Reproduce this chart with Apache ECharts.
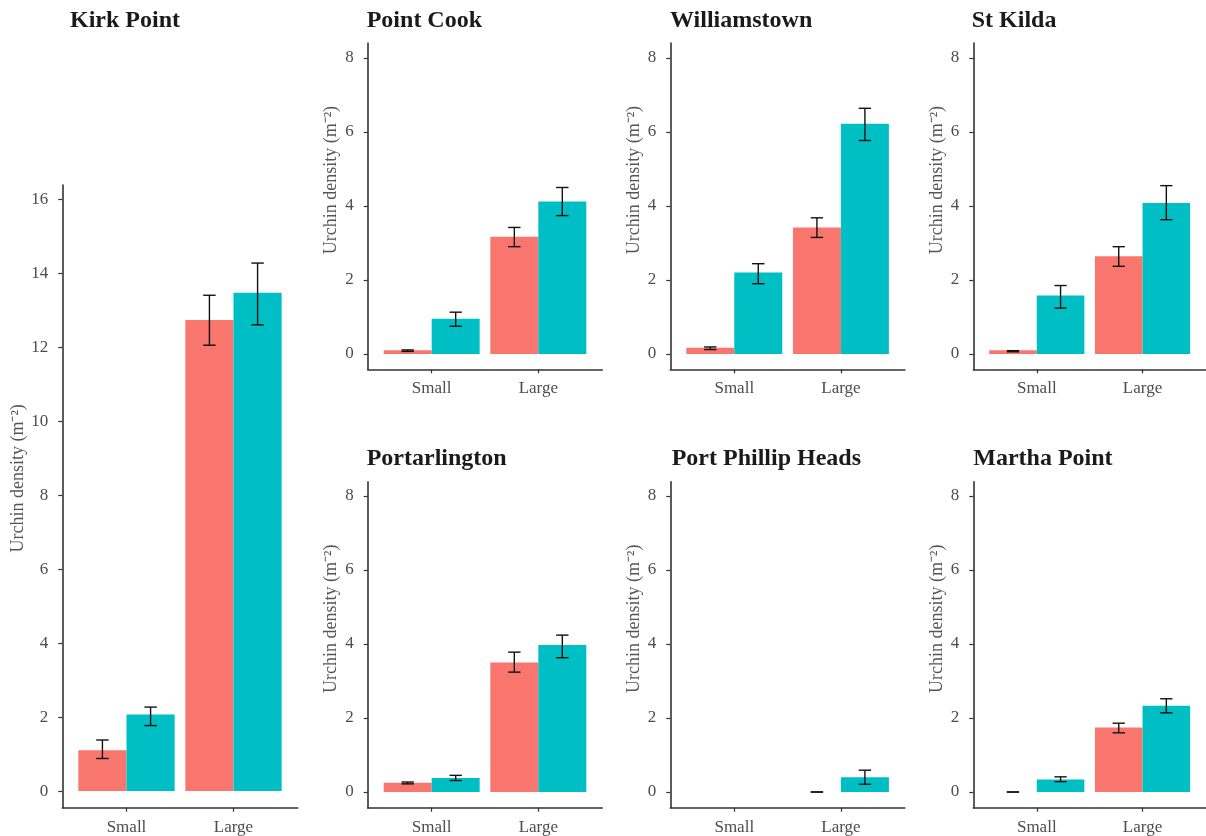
<!DOCTYPE html>
<html>
<head>
<meta charset="utf-8">
<script src="https://cdn.jsdelivr.net/npm/echarts@6/dist/echarts.min.js"></script>
<style>
  html, body { margin: 0; padding: 0; background: #fff; }
  #chart { width: 1206px; height: 836px; }
</style>
</head>
<body>
<div id="chart"></div>
<script>
// ---------------- data ----------------
const sites = ['Kirk Point', 'Point Cook', 'Williamstown', 'St Kilda', 'Portarlington', 'Port Phillip Heads', 'Martha Point'];
const sizeClasses = ['Small', 'Large'];
// values per site: [Small, Large]; null = no data
const redMean  = [[1.10, 12.73], [0.10, 3.17], [0.17, 3.42], [0.10, 2.64], [0.25, 3.50], [null, 0], [0, 1.74]];
const redLow   = [[0.88, 12.05], [0.07, 2.90], [0.12, 3.15], [0.06, 2.37], [0.22, 3.24], [null, 0], [0, 1.60]];
const redHigh  = [[1.38, 13.40], [0.11, 3.42], [0.19, 3.68], [0.09, 2.90], [0.27, 3.78], [null, 0], [0, 1.86]];
const tealMean = [[2.07, 13.47], [0.95, 4.12], [2.20, 6.22], [1.58, 4.08], [0.38, 3.97], [null, 0.40], [0.34, 2.33]];
const tealLow  = [[1.77, 12.60], [0.75, 3.74], [1.90, 5.77], [1.24, 3.63], [0.31, 3.63], [null, 0.21], [0.28, 2.14]];
const tealHigh = [[2.27, 14.27], [1.13, 4.50], [2.44, 6.64], [1.85, 4.55], [0.45, 4.24], [null, 0.59], [0.41, 2.52]];
const yTicksKirk = [0, 2, 4, 6, 8, 10, 12, 14, 16];
const yTicksOther = [0, 2, 4, 6, 8];
const yAxisTitle = 'Urchin density (m⁻²)';

// ---------------- layout ----------------
const RED = '#F8766D', TEAL = '#00BFC4';
const FONT = "'Liberation Serif', 'Times New Roman', serif";
const panels = [
  { left: 62.3,  top: 185,   width: 235.4, height: 622.7, ymin: -0.45, ymax: 16.38, ticks: yTicksKirk, tx: 70,    ty: 9,   gap: 30, shift: 36 },
  { left: 367.7, top: 43,    width: 234.6, height: 326.3, ymin: -0.414, ymax: 8.405, ticks: yTicksOther, tx: 366.7, ty: 9,   gap: 27, shift: 52 },
  { left: 670.3, top: 43,    width: 234.6, height: 326.3, ymin: -0.414, ymax: 8.405, ticks: yTicksOther, tx: 670,   ty: 9,   gap: 27, shift: 52 },
  { left: 973.3, top: 43,    width: 234.6, height: 326.3, ymin: -0.414, ymax: 8.405, ticks: yTicksOther, tx: 971.7, ty: 9,   gap: 27, shift: 52 },
  { left: 367.7, top: 481.7, width: 234.6, height: 326,   ymin: -0.424, ymax: 8.386, ticks: yTicksOther, tx: 366.7, ty: 447, gap: 27, shift: 52 },
  { left: 670.3, top: 481.7, width: 234.6, height: 326,   ymin: -0.424, ymax: 8.386, ticks: yTicksOther, tx: 671.7, ty: 447, gap: 27, shift: 52 },
  { left: 973.3, top: 481.7, width: 234.6, height: 326,   ymin: -0.424, ymax: 8.386, ticks: yTicksOther, tx: 973.3, ty: 447, gap: 27, shift: 52 }
];

const axisLineStyle = { color: '#333', width: 1.6 };

function buildData(i) {
  const rows = [];
  for (let c = 0; c < 2; c++) {
    if (redMean[i][c] !== null) rows.push([c, 0, redMean[i][c], redLow[i][c], redHigh[i][c]]);
    if (tealMean[i][c] !== null) rows.push([c, 1, tealMean[i][c], tealLow[i][c], tealHigh[i][c]]);
  }
  return rows;
}

function renderItem(params, api) {
  const cat = api.value(0), grp = api.value(1), mean = api.value(2), lo = api.value(3), hi = api.value(4);
  const half = 0.225;
  const cx = cat + (grp === 0 ? -half : half);
  const p0 = api.coord([cx - half, mean]);
  const p1 = api.coord([cx + half, 0]);
  const children = [];
  if (mean > 0) {
    children.push({
      type: 'rect',
      shape: { x: p0[0], y: p0[1], width: p1[0] - p0[0], height: p1[1] - p0[1] },
      style: { fill: grp === 0 ? RED : TEAL }
    });
  }
  const capHalf = 0.058;
  const t = api.coord([cx, hi]);
  const b = api.coord([cx, lo]);
  const cl = api.coord([cx - capHalf, hi])[0];
  const cr = api.coord([cx + capHalf, hi])[0];
  const es = { stroke: '#111', lineWidth: 1.4 };
  children.push({ type: 'line', shape: { x1: t[0], y1: t[1], x2: b[0], y2: b[1] }, style: es });
  children.push({ type: 'line', shape: { x1: cl, y1: t[1], x2: cr, y2: t[1] }, style: es });
  children.push({ type: 'line', shape: { x1: cl, y1: b[1], x2: cr, y2: b[1] }, style: es });
  return { type: 'group', children };
}

const option = {
  backgroundColor: '#fff',
  animation: false,
  title: panels.map((p, i) => ({
    text: sites[i], left: p.tx, top: p.ty, padding: 0,
    textStyle: { fontFamily: FONT, fontWeight: 'bold', fontSize: 24, color: '#1a1a1a' }
  })),
  grid: panels.map(p => ({ left: p.left, top: p.top, width: p.width, height: p.height, containLabel: false })),
  xAxis: panels.map((p, i) => ({
    type: 'value', gridIndex: i, min: -0.6, max: 1.6,
    splitLine: { show: false },
    axisLine: { show: true, onZero: false, lineStyle: axisLineStyle },
    axisTick: { show: true, length: 4, customValues: [0, 1], lineStyle: { color: '#333', width: 1.2 } },
    axisLabel: {
      customValues: [0, 1], margin: 11,
      formatter: v => sizeClasses[Math.round(v)],
      fontFamily: FONT, fontSize: 17, color: '#4d4d4d'
    }
  })),
  yAxis: panels.map((p, i) => ({
    type: 'value', gridIndex: i, min: p.ymin, max: p.ymax,
    splitLine: { show: false },
    axisLine: { show: true, onZero: false, lineStyle: axisLineStyle },
    axisTick: { show: true, length: 4, customValues: p.ticks, lineStyle: { color: '#333', width: 1.2 } },
    axisLabel: { customValues: p.ticks, margin: 14, fontFamily: FONT, fontSize: 17, color: '#4d4d4d' },
    name: yAxisTitle, nameLocation: 'middle', nameGap: p.gap, nameRotate: 90,
    nameTextStyle: { fontFamily: FONT, fontSize: 18, color: '#555', padding: [0, 0, 0, p.shift] }
  })),
  series: panels.map((p, i) => ({
    type: 'custom', xAxisIndex: i, yAxisIndex: i,
    renderItem: renderItem,
    encode: { x: 0, y: 2 },
    data: buildData(i)
  }))
};

const chart = echarts.init(document.getElementById('chart'), null, { renderer: 'canvas' });
chart.setOption(option);
</script>
</body>
</html>
